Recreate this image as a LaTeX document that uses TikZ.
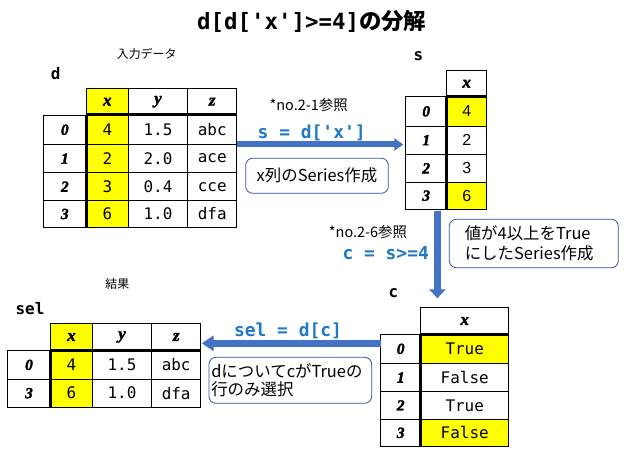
\documentclass[tikz,border=0pt]{standalone}
\usepackage{fontspec}
\setmainfont{Liberation Serif}
\newfontfamily\jp{Noto Sans CJK JP}
\newfontfamily\monof[Ligatures=ResetAll,WordSpace={1,0,0}]{DejaVu Sans Mono}
\newfontfamily\sansv{Liberation Sans}
\newfontfamily\idxf[FakeBold=2.2]{Liberation Serif Bold Italic}
\usetikzlibrary{arrows.meta}
\definecolor{hlyellow}{HTML}{FFFF00}
\definecolor{arrblue}{HTML}{4472C4}
\definecolor{codeblue}{HTML}{1F78C8}
\definecolor{boxblue}{HTML}{2F5597}
\newcommand\tcell[7]{\node[cellbase,#6,minimum width={(#4-#2)*1bp},minimum height={(#5-#3)*1bp}] (#1) at ({(#2+#4)/2},{(#3+#5)/2}) {#7};}
\begin{document}
\begin{tikzpicture}[x=1bp,y=-1bp,
  cellbase/.style={draw, line width=0.8bp, inner sep=0pt, outer sep=0pt},
  hdr/.style={font=\idxf\bfseries\fontsize{17}{18}\selectfont},
  idx/.style={font=\idxf\bfseries\fontsize{15.5}{18}\selectfont},
  val/.style={font=\monof\fontsize{16}{18}\selectfont},
  sval/.style={font=\sansv\fontsize{16}{18}\selectfont},
  hl/.style={fill=hlyellow},
  thickrule/.style={line width=3bp},
  varlabel/.style={font=\monof\bfseries\fontsize{16}{18}\selectfont},
  jplabel/.style={font=\jp\fontsize{12}{14}\selectfont},
  code/.style={font=\monof\bfseries\fontsize{18}{20}\selectfont, text=codeblue},
  note/.style={font=\jp\fontsize{14.5}{16}\selectfont},
  expl/.style={draw=boxblue, line width=0.8bp, rounded corners=7bp, font=\jp\fontsize{16.5}{20}\selectfont, inner sep=0pt},
  bigarrow/.style={draw=arrblue, line width=6bp},
]
\useasboundingbox[fill=white] (0,0) rectangle (628,458);

% title
\node[font=\fontsize{22.5}{26}\selectfont] (title) at (311.7,21.7)
  {{\monof\bfseries d[d[\char39 x\char39]>=4]}{\jp\bfseries の分解}};

% ---- table d ----
\node[jplabel] (dcap) at (146.7,54.3) {入力データ};
\node[varlabel] (dlab) at (55.7,73.3) {d};
\tcell{d-xh}{86.3}{88.3}{128.3}{115}{hdr,hl}{x}
\tcell{d-yh}{128.3}{88.3}{187.7}{115}{hdr}{y}
\tcell{d-zh}{187.7}{88.3}{236.7}{115}{hdr}{z}
\tcell{d-i0}{43.3}{115}{86.3}{144.5}{idx}{0}
\tcell{d-i1}{43.3}{144.5}{86.3}{172.7}{idx}{1}
\tcell{d-i2}{43.3}{172.7}{86.3}{200.7}{idx}{2}
\tcell{d-i3}{43.3}{200.7}{86.3}{227.3}{idx}{3}
\tcell{d-x0}{86.3}{115}{128.3}{144.5}{val,hl}{4}
\tcell{d-x1}{86.3}{144.5}{128.3}{172.7}{val,hl}{2}
\tcell{d-x2}{86.3}{172.7}{128.3}{200.7}{val,hl}{3}
\tcell{d-x3}{86.3}{200.7}{128.3}{227.3}{val,hl}{6}
\tcell{d-y0}{128.3}{115}{187.7}{144.5}{val}{1.5}
\tcell{d-y1}{128.3}{144.5}{187.7}{172.7}{val}{2.0}
\tcell{d-y2}{128.3}{172.7}{187.7}{200.7}{val}{0.4}
\tcell{d-y3}{128.3}{200.7}{187.7}{227.3}{val}{1.0}
\tcell{d-z0}{187.7}{115}{236.7}{144.5}{val}{abc}
\tcell{d-z1}{187.7}{144.5}{236.7}{172.7}{val}{ace}
\tcell{d-z2}{187.7}{172.7}{236.7}{200.7}{val}{cce}
\tcell{d-z3}{187.7}{200.7}{236.7}{227.3}{val}{dfa}
\draw[thickrule] (d-x0.north west) -- (d-z0.north east);
\draw[thickrule] (d-x0.north west) -- (d-x3.south west);

% ---- table s ----
\node[varlabel] (slab) at (418.3,56) {s};
\tcell{s-h}{446.7}{70.7}{486.7}{96.7}{hdr}{x}
\tcell{s-i0}{405.7}{96.7}{446.7}{126}{idx}{0}
\tcell{s-i1}{405.7}{126}{446.7}{154.3}{idx}{1}
\tcell{s-i2}{405.7}{154.3}{446.7}{182.3}{idx}{2}
\tcell{s-i3}{405.7}{182.3}{446.7}{209}{idx}{3}
\tcell{s-x0}{446.7}{96.7}{486.7}{126}{sval,hl}{4}
\tcell{s-x1}{446.7}{126}{486.7}{154.3}{sval}{2}
\tcell{s-x2}{446.7}{154.3}{486.7}{182.3}{sval}{3}
\tcell{s-x3}{446.7}{182.3}{486.7}{209}{sval,hl}{6}
\draw[thickrule] (s-x0.north west) -- (s-x0.north east);
\draw[thickrule] (s-x0.north west) -- (s-x3.south west);

% ---- table c ----
\node[varlabel] (clab) at (393.3,293.3) {c};
\tcell{c-h}{420.7}{307.7}{508.7}{334.3}{hdr}{x}
\tcell{c-i0}{380.7}{334.3}{420.7}{363.3}{idx}{0}
\tcell{c-i1}{380.7}{363.3}{420.7}{391.7}{idx}{1}
\tcell{c-i2}{380.7}{391.7}{420.7}{419}{idx}{2}
\tcell{c-i3}{380.7}{419}{420.7}{446.7}{idx}{3}
\tcell{c-x0}{420.7}{334.3}{508.7}{363.3}{val,hl}{True}
\tcell{c-x1}{420.7}{363.3}{508.7}{391.7}{val}{False}
\tcell{c-x2}{420.7}{391.7}{508.7}{419}{val}{True}
\tcell{c-x3}{420.7}{419}{508.7}{446.7}{val,hl}{False}
\draw[thickrule] (c-x0.north west) -- (c-x0.north east);
\draw[thickrule] (c-x0.north west) -- (c-x3.south west);

% ---- table sel ----
\node[jplabel] (selcap) at (117.3,284) {結果};
\node[varlabel] (sellab) at (30,308.3) {sel};
\tcell{sel-xh}{50.7}{323.3}{92.3}{350.7}{hdr,hl}{x}
\tcell{sel-yh}{92.3}{323.3}{151.7}{350.7}{hdr}{y}
\tcell{sel-zh}{151.7}{323.3}{200.7}{350.7}{hdr}{z}
\tcell{sel-i0}{7.3}{350.7}{50.7}{379}{idx}{0}
\tcell{sel-i3}{7.3}{379}{50.7}{407.3}{idx}{3}
\tcell{sel-x0}{50.7}{350.7}{92.3}{379}{val,hl}{4}
\tcell{sel-x3}{50.7}{379}{92.3}{407.3}{val,hl}{6}
\tcell{sel-y0}{92.3}{350.7}{151.7}{379}{val}{1.5}
\tcell{sel-y3}{92.3}{379}{151.7}{407.3}{val}{1.0}
\tcell{sel-z0}{151.7}{350.7}{200.7}{379}{val}{abc}
\tcell{sel-z3}{151.7}{379}{200.7}{407.3}{val}{dfa}
\draw[thickrule] (sel-x0.north west) -- (sel-z0.north east);
\draw[thickrule] (sel-x0.north west) -- (sel-x3.south west);

% ---- step 1: d -> s ----
\draw[bigarrow, -{Triangle[width=12bp,length=9bp]}, shorten >=2.4bp]
  (d-z0.south east) -- (s-i1.west |- d-z0.south east);
\node[note] (n1) at (308.7,105) {*no.2-1参照};
\node[code] (c1) at (311.7,133.3) {s = d[\char39 x\char39]};
\node[expl, minimum width=142.6bp, minimum height=35bp] (b1) at (317,175.8) {x列のSeries作成};

% ---- step 2: s -> c ----
\coordinate (vtop) at ([xshift=-9.3bp]s-i3.south east);
\draw[bigarrow, line width=7bp, -{Triangle[width=16bp,length=9bp]}, shorten <=1.7bp, shorten >=9.4bp]
  (vtop) -- (vtop |- c-h.north);
\node[note] (n2) at (368,231.7) {*no.2-6参照};
\node[code] (c2) at (385.7,253.3) {c = s>=4};
\node[expl, minimum width=169bp, minimum height=48.4bp, text width=138bp, align=left] (b2) at (533.8,243.5)
  {値が4以上をTrue\\にしたSeries作成};

% ---- step 3: c -> sel ----
\coordinate (lstart) at (c-i0.west |- 0,343.3);
\draw[bigarrow, line width=6.5bp, -{Triangle[width=15bp,length=12bp]}, shorten >=1bp]
  (lstart) -- (sel-zh.east |- lstart);
\node[code] (c3) at (288,331) {sel = d[c]};
\node[expl, minimum width=162.7bp, minimum height=46bp, text width=158bp, align=left, font=\jp\fontsize{16.5}{17.4}\selectfont] (b3) at (290.3,380.3)
  {dについてcがTrueの\\行のみ選択};
\end{tikzpicture}
\end{document}
